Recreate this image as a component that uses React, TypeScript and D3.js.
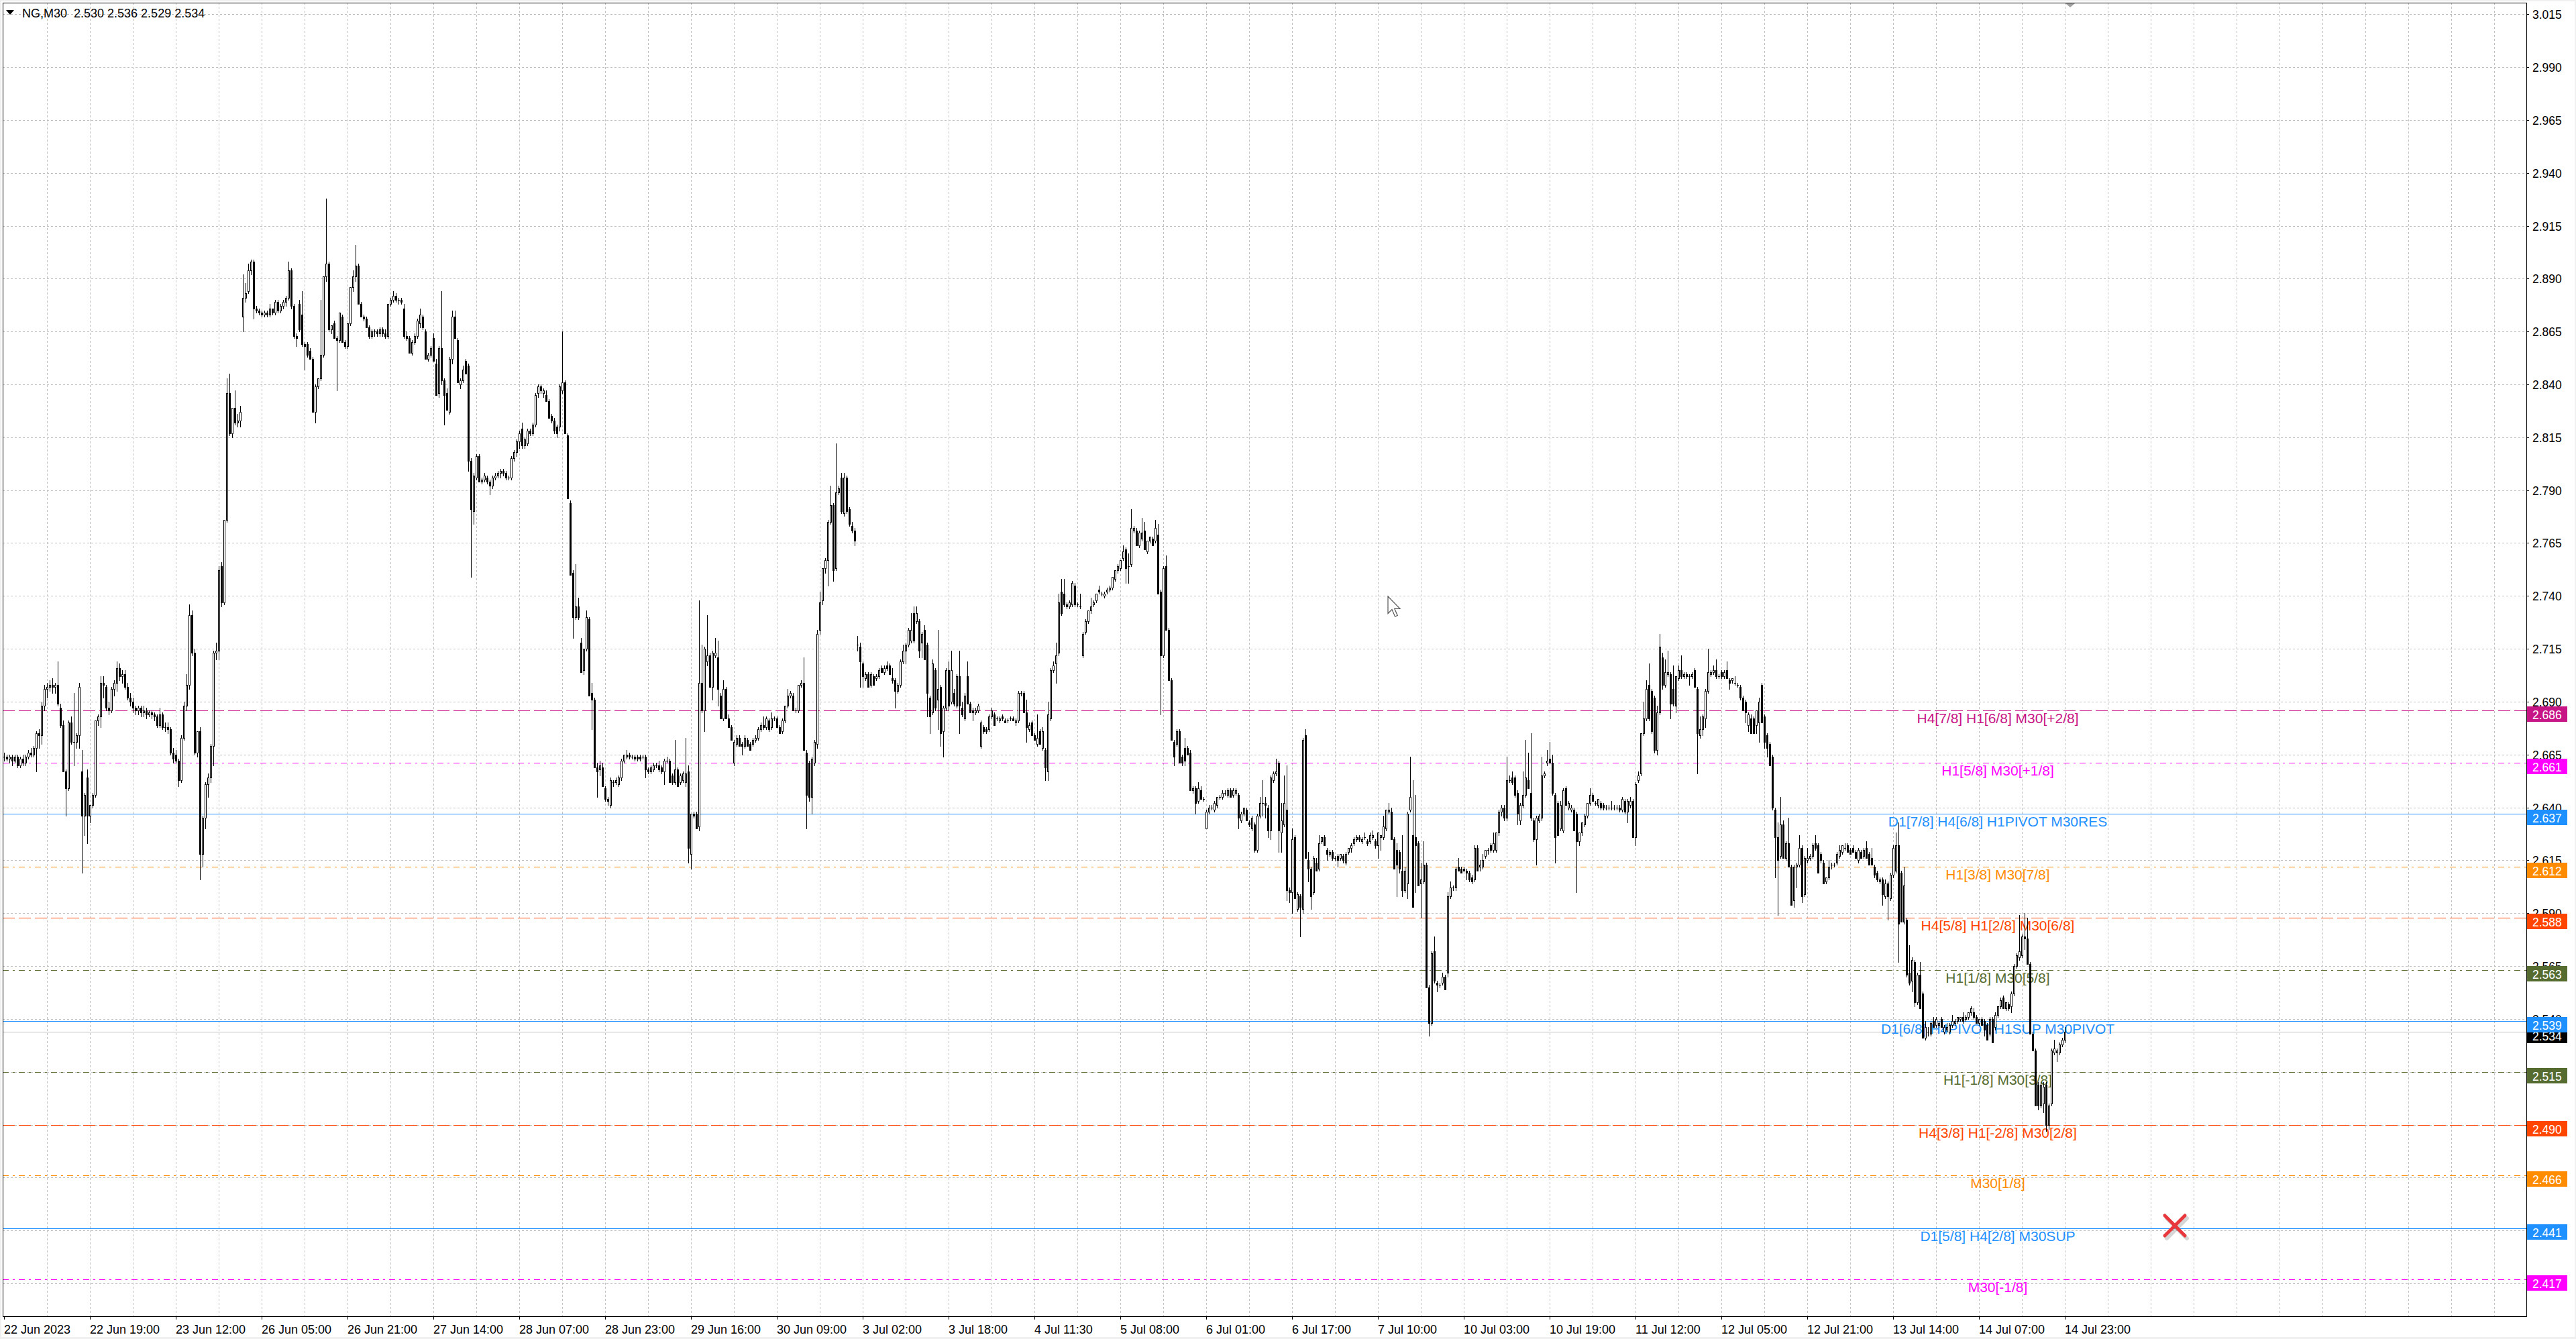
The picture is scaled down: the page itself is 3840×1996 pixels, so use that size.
import React from 'react';
import * as d3 from 'd3';

type OHLC = [number, number, number, number];

// NG M30 candles, prices in thousandths (open, high, low, close)
const jun22to23: OHLC[] = [
[2664,2666,2662,2664],[2664,2665,2662,2663],[2663,2665,2661,2664],[2664,2665,2660,2662],[2662,2665,2661,2664],
[2664,2665,2659,2660],[2660,2664,2659,2663],[2663,2665,2660,2661],[2661,2665,2660,2664],[2664,2667,2663,2666],
[2666,2668,2664,2665],[2665,2669,2664,2668],[2668,2676,2657,2675],[2675,2677,2668,2674],[2674,2690,2670,2688],
[2688,2698,2686,2696],[2696,2699,2692,2697],[2697,2700,2695,2698],[2698,2701,2694,2697],[2697,2699,2694,2698],
[2698,2709,2688,2689],[2687,2689,2678,2679],[2679,2681,2657,2657],[2657,2658,2636,2649],[2649,2681,2648,2680],
[2680,2683,2670,2671],[2671,2694,2660,2671],[2671,2675,2668,2674],[2674,2699,2668,2697],[2657,2667,2609,2636],
[2636,2647,2627,2646],[2654,2658,2623,2636],[2636,2641,2633,2641],[2641,2647,2640,2646],[2646,2681,2645,2681],
[2681,2684,2679,2683],[2683,2702,2678,2699],[2699,2702,2692,2698],[2697,2698,2686,2687],[2687,2690,2684,2686],
[2686,2697,2685,2696],[2696,2700,2693,2699],[2699,2709,2695,2706],[2706,2708,2700,2702],[2702,2705,2699,2703],
[2703,2705,2696,2697],[2697,2699,2691,2692],[2692,2694,2688,2690],[2690,2692,2685,2687],[2687,2688,2684,2686],
[2686,2688,2684,2687],[2687,2688,2683,2685],[2685,2688,2683,2686],[2686,2687,2682,2684],[2684,2686,2683,2685],
[2685,2686,2682,2684],[2684,2685,2681,2683],[2683,2684,2678,2679],[2679,2687,2678,2684],[2684,2685,2677,2678],
[2678,2680,2676,2678],[2678,2680,2675,2677],[2677,2678,2665,2666],[2666,2668,2661,2663],[2665,2667,2661,2662],
[2662,2663,2650,2653],[2653,2674,2652,2673],[2673,2690,2672,2688],[2688,2703,2686,2698],[2698,2736,2696,2731],
[2731,2733,2712,2713],[2713,2715,2665,2666],[2666,2676,2664,2676],[2676,2678,2606,2618],[2618,2636,2612,2635],
[2635,2652,2630,2651],[2651,2656,2645,2654],[2654,2670,2652,2669],[2669,2714,2660,2713],[2713,2718,2710,2714],
[2714,2754,2710,2752],[2754,2756,2735,2737],[2737,2776,2736,2776],[2776,2843,2775,2836],[2836,2845,2816,2817],
[2817,2829,2815,2829],[2829,2837,2821,2822],[2822,2826,2820,2823],[2823,2830,2820,2827],
];

const jun26to30: OHLC[] = [
[2872,2892,2865,2881],[2881,2888,2879,2883],[2884,2897,2883,2894],[2894,2899,2892,2898],[2898,2899,2871,2876],
[2876,2877,2874,2875],[2875,2876,2873,2874],[2874,2875,2872,2873],[2873,2875,2872,2874],[2874,2875,2872,2873],
[2873,2878,2872,2876],[2876,2876,2873,2874],[2874,2880,2873,2879],[2879,2880,2874,2875],[2875,2878,2874,2877],
[2877,2880,2876,2879],[2879,2882,2877,2881],[2881,2898,2880,2894],[2894,2895,2876,2877],[2877,2878,2862,2863],
[2863,2864,2858,2862],[2878,2880,2865,2866],[2873,2884,2858,2859],[2859,2860,2847,2858],[2859,2860,2853,2854],
[2856,2857,2852,2852],[2852,2853,2827,2827],[2827,2840,2822,2839],[2839,2843,2838,2843],[2843,2880,2842,2854],
[2854,2891,2853,2891],[2891,2928,2889,2897],[2897,2898,2865,2866],[2866,2868,2864,2868],[2869,2870,2862,2862],
[2862,2863,2837,2861],[2861,2874,2860,2874],[2872,2873,2860,2860],[2860,2861,2857,2858],[2858,2869,2857,2869],
[2869,2886,2868,2886],[2886,2894,2884,2891],[2891,2906,2889,2896],[2896,2897,2878,2878],[2878,2879,2872,2872],
[2872,2873,2870,2871],[2871,2872,2867,2867],[2867,2868,2862,2863],[2863,2866,2862,2865],[2865,2866,2863,2865],
[2865,2866,2863,2864],[2864,2867,2863,2866],[2866,2867,2863,2864],[2864,2866,2862,2863],[2863,2878,2862,2878],
[2878,2881,2877,2880],[2880,2884,2879,2882],[2882,2883,2879,2880],[2880,2881,2878,2880],[2880,2881,2878,2879],
[2876,2878,2862,2863],[2863,2865,2861,2862],[2862,2863,2855,2855],[2855,2861,2854,2860],[2860,2864,2859,2863],
[2863,2871,2862,2870],[2869,2876,2867,2873],[2872,2873,2866,2867],[2865,2866,2852,2852],[2852,2855,2851,2854],
[2854,2858,2853,2857],[2862,2864,2851,2851],[2850,2852,2835,2835],[2836,2858,2834,2857],[2857,2884,2840,2842],
[2842,2843,2821,2835],[2836,2838,2828,2828],[2827,2853,2826,2852],[2852,2875,2850,2872],[2872,2875,2862,2862],
[2861,2862,2841,2841],[2840,2843,2838,2842],[2842,2849,2841,2847],[2851,2852,2845,2845],[2849,2850,2799,2804],
[2804,2805,2749,2781],[2780,2798,2774,2797],[2796,2807,2795,2806],[2806,2807,2794,2794],[2794,2796,2793,2795],
[2795,2798,2794,2797],[2796,2797,2793,2794],[2794,2795,2788,2792],[2792,2797,2791,2796],[2796,2798,2795,2797],
[2797,2799,2796,2798],[2798,2800,2796,2799],[2799,2800,2797,2798],[2798,2799,2795,2796],[2796,2797,2795,2796],
[2796,2806,2795,2805],[2805,2809,2804,2808],[2808,2814,2806,2813],[2813,2818,2810,2817],[2819,2822,2810,2811],
[2811,2815,2810,2814],[2812,2819,2811,2818],[2818,2819,2816,2817],[2817,2822,2816,2821],[2821,2836,2820,2835],
[2836,2840,2834,2839],[2839,2840,2836,2837],[2836,2838,2834,2837],[2835,2837,2832,2832],[2832,2833,2824,2824],
[2825,2826,2822,2823],[2823,2824,2817,2818],[2820,2821,2815,2817],[2820,2840,2818,2839],[2837,2865,2836,2841],
[2841,2842,2817,2817],[2816,2817,2786,2786],[2784,2785,2750,2750],[2751,2752,2720,2730],[2730,2755,2729,2735],
[2735,2739,2729,2730],[2718,2720,2704,2704],[2705,2715,2703,2715],[2715,2733,2714,2730],[2729,2730,2693,2693],
[2694,2699,2677,2691],[2691,2692,2659,2659],[2659,2661,2645,2657],[2658,2662,2655,2660],[2659,2661,2650,2650],
[2649,2650,2643,2644],[2644,2645,2641,2643],[2641,2654,2640,2653],[2652,2653,2650,2652],[2652,2654,2651,2653],
[2651,2655,2650,2654],[2654,2663,2653,2662],[2662,2665,2661,2665],[2664,2667,2663,2665],[2665,2666,2663,2664],
[2664,2665,2663,2664],[2664,2665,2662,2663],[2664,2665,2662,2663],[2664,2665,2662,2663],[2664,2665,2663,2664],
[2664,2665,2654,2658],[2658,2659,2656,2657],[2657,2660,2656,2659],[2658,2661,2657,2660],[2660,2661,2659,2660],
[2660,2662,2657,2658],[2659,2660,2656,2657],[2657,2663,2651,2662],[2662,2664,2661,2662],[2662,2663,2652,2652],
[2655,2656,2651,2652],[2652,2672,2651,2658],[2658,2659,2650,2650],[2652,2656,2651,2655],[2653,2657,2652,2656],
[2652,2673,2650,2656],[2657,2660,2614,2621],[2618,2637,2611,2637],[2637,2638,2635,2636],[2637,2638,2630,2630],
[2631,2738,2629,2699],[2699,2717,2685,2686],[2686,2716,2676,2715],[2709,2731,2707,2712],[2712,2713,2697,2697],
[2697,2714,2691,2713],[2712,2720,2711,2713],[2711,2719,2688,2696],[2693,2694,2682,2682],[2682,2700,2681,2696],
[2696,2697,2682,2682],[2682,2684,2678,2678],[2678,2679,2672,2672],[2661,2672,2660,2671],[2670,2674,2669,2673],
[2673,2674,2669,2669],[2670,2671,2665,2669],[2669,2674,2668,2673],[2672,2673,2669,2669],[2670,2671,2667,2667],
[2670,2673,2669,2672],[2672,2674,2671,2673],[2673,2678,2672,2677],[2677,2680,2676,2679],[2679,2683,2677,2678],
[2678,2683,2677,2682],[2681,2682,2676,2677],[2678,2685,2677,2682],[2682,2683,2681,2682],[2682,2683,2678,2678],
[2678,2679,2675,2675],[2676,2682,2675,2681],[2681,2688,2680,2688],[2688,2696,2687,2693],[2693,2695,2692,2694],
[2693,2694,2686,2686],[2686,2687,2685,2686],[2686,2698,2685,2698],[2698,2700,2697,2699],[2699,2711,2667,2667],
[2666,2667,2630,2646],[2661,2662,2643,2645],[2645,2664,2637,2663],[2661,2672,2660,2671],[2670,2724,2668,2722],
[2724,2742,2722,2737],[2738,2753,2736,2753],[2753,2758,2751,2757],[2757,2776,2745,2775],[2775,2792,2774,2783],
[2783,2784,2747,2752],[2753,2812,2752,2789],[2789,2792,2788,2791],[2796,2798,2779,2780],[2779,2798,2778,2796],
[2796,2797,2779,2780],[2781,2782,2773,2774],[2773,2775,2770,2771],[2771,2772,2764,2766],
];

const jul03to07: OHLC[] = [
[2717,2721,2714,2717],[2716,2718,2697,2709],[2708,2709,2697,2702],[2701,2704,2700,2703],[2703,2704,2697,2697],
[2698,2704,2697,2703],[2702,2703,2698,2698],[2701,2703,2700,2702],[2702,2706,2701,2705],[2706,2707,2704,2704],
[2704,2707,2703,2706],[2707,2709,2705,2706],[2707,2708,2703,2703],[2701,2706,2699,2700],[2700,2701,2687,2695],
[2695,2699,2694,2698],[2698,2710,2697,2709],[2709,2717,2708,2714],[2714,2718,2708,2717],[2717,2725,2716,2724],
[2719,2732,2718,2724],[2732,2735,2718,2719],[2728,2735,2727,2732],[2728,2729,2711,2714],[2718,2723,2711,2722],
[2724,2726,2710,2710],[2717,2718,2683,2694],[2692,2693,2675,2683],[2685,2710,2684,2708],[2705,2706,2686,2687],
[2691,2724,2677,2696],[2697,2698,2669,2675],[2676,2688,2664,2687],[2687,2706,2686,2705],[2705,2709,2686,2688],
[2690,2714,2689,2705],[2694,2696,2688,2689],[2688,2703,2687,2702],[2702,2714,2675,2688],[2687,2690,2683,2684],
[2682,2694,2681,2693],[2702,2709,2689,2689],[2689,2690,2685,2685],[2686,2687,2681,2685],[2685,2687,2684,2686],
[2686,2689,2685,2688],[2669,2681,2668,2680],[2678,2679,2675,2676],[2677,2678,2675,2676],[2677,2684,2676,2683],
[2683,2687,2682,2686],[2684,2685,2679,2679],[2682,2683,2681,2682],[2681,2683,2680,2682],[2683,2684,2681,2682],
[2681,2682,2680,2680],[2681,2682,2680,2681],[2682,2683,2681,2682],[2682,2683,2681,2681],[2680,2682,2679,2681],
[2681,2695,2680,2694],[2694,2695,2693,2694],[2694,2695,2685,2685],[2685,2691,2671,2678],[2677,2680,2676,2679],
[2680,2681,2674,2674],[2674,2675,2672,2672],[2670,2684,2669,2673],[2676,2677,2670,2670],[2668,2678,2667,2676],
[2667,2668,2653,2659],[2657,2690,2653,2684],[2682,2706,2681,2705],[2705,2709,2704,2707],[2708,2718,2699,2712],
[2713,2741,2712,2737],[2742,2748,2731,2732],[2741,2748,2735,2736],[2736,2737,2734,2735],[2735,2738,2734,2737],
[2736,2747,2735,2746],[2745,2746,2735,2736],[2736,2737,2735,2736],[2735,2741,2734,2735],[2712,2723,2711,2722],
[2723,2729,2722,2728],[2728,2733,2727,2733],[2733,2739,2732,2735],[2736,2738,2735,2737],[2738,2741,2737,2741],
[2743,2745,2741,2742],[2741,2742,2740,2741],[2740,2742,2739,2741],[2742,2744,2741,2743],[2743,2745,2742,2744],
[2744,2749,2743,2749],[2748,2752,2747,2752],[2752,2755,2751,2754],[2753,2757,2752,2757],[2758,2764,2757,2761],
[2762,2763,2746,2753],[2754,2760,2746,2754],[2755,2781,2754,2772],[2771,2773,2770,2772],[2771,2772,2764,2764],
[2764,2771,2763,2770],[2767,2777,2766,2770],[2771,2775,2762,2762],[2761,2766,2760,2766],[2766,2768,2765,2768],
[2767,2768,2764,2764],[2766,2776,2765,2772],[2769,2774,2741,2741],[2742,2743,2684,2712],[2712,2754,2711,2753],
[2754,2759,2724,2724],[2724,2725,2700,2700],[2700,2701,2672,2672],[2671,2672,2660,2664],[2670,2677,2669,2676],
[2676,2677,2661,2661],[2664,2665,2660,2661],[2668,2673,2660,2662],[2668,2669,2665,2665],[2666,2667,2648,2648],
[2648,2650,2647,2649],[2649,2650,2637,2642],[2643,2652,2642,2649],[2648,2650,2644,2644],[2644,2645,2643,2644],
[2630,2639,2630,2638],[2638,2641,2637,2640],[2640,2641,2639,2640],[2639,2643,2638,2642],[2641,2645,2640,2645],
[2645,2646,2644,2645],[2645,2648,2644,2647],[2647,2648,2646,2647],[2646,2649,2645,2648],[2648,2649,2645,2645],
[2646,2649,2645,2648],[2647,2649,2646,2648],[2646,2647,2630,2635],[2634,2638,2633,2637],[2637,2640,2636,2640],
[2639,2640,2634,2634],[2633,2634,2631,2632],[2630,2636,2629,2635],[2632,2633,2619,2620],
[2620,2637,2619,2636],[2636,2645,2635,2642],[2642,2653,2636,2642],[2642,2645,2635,2641],[2640,2641,2626,2629],
[2629,2655,2625,2654],[2653,2657,2652,2656],[2656,2663,2655,2657],[2661,2662,2619,2629],[2628,2642,2619,2634],
[2632,2655,2631,2642],[2639,2660,2596,2601],[2601,2602,2595,2600],[2600,2630,2590,2625],[2626,2627,2597,2597],
[2592,2600,2591,2599],[2598,2599,2579,2593],[2592,2673,2590,2672],[2674,2677,2616,2616],[2615,2619,2605,2611],
[2611,2612,2592,2598],[2600,2617,2599,2616],[2614,2616,2610,2610],[2611,2627,2610,2623],[2624,2626,2623,2626],
[2626,2627,2622,2622],[2620,2621,2615,2618],[2618,2620,2617,2619],[2619,2620,2615,2616],[2616,2617,2615,2616],
[2617,2618,2612,2615],[2616,2618,2615,2618],[2617,2618,2614,2615],[2614,2619,2613,2618],[2619,2621,2618,2621],
[2621,2623,2619,2622],[2623,2626,2622,2625],[2625,2627,2624,2626],[2626,2627,2624,2625],[2624,2626,2623,2625],
[2626,2628,2625,2626],[2624,2625,2622,2623],[2624,2628,2623,2627],[2626,2629,2625,2627],
[2624,2625,2621,2622],[2622,2628,2616,2628],[2626,2627,2620,2627],[2626,2636,2625,2631],[2630,2639,2629,2639],
[2638,2642,2637,2639],[2638,2640,2625,2625],[2625,2626,2611,2611],[2620,2623,2598,2613],[2619,2620,2609,2611],
[2610,2627,2598,2601],[2601,2612,2600,2610],[2604,2638,2597,2637],[2639,2664,2638,2645],[2627,2653,2593,2593],
[2626,2646,2600,2622],[2623,2624,2603,2603],[2604,2614,2588,2606],[2605,2624,2604,2613],[2613,2614,2555,2555],
[2555,2556,2532,2538],[2538,2572,2537,2571],[2572,2579,2557,2558],[2557,2558,2553,2556],[2556,2557,2555,2556],
[2557,2562,2556,2560],[2560,2561,2554,2554],
];

const jul10to14: OHLC[] = [
[2562,2600,2560,2598],[2598,2605,2597,2602],[2602,2603,2601,2602],[2602,2612,2601,2611],[2612,2616,2610,2610],
[2611,2612,2609,2609],[2611,2612,2610,2610],[2610,2611,2606,2609],[2609,2610,2605,2606],[2607,2608,2604,2605],
[2606,2622,2605,2621],[2621,2622,2610,2610],[2612,2615,2610,2613],[2612,2618,2611,2615],[2617,2620,2616,2620],
[2620,2621,2618,2620],[2622,2623,2619,2620],[2620,2628,2619,2623],[2620,2628,2619,2628],[2628,2639,2627,2638],
[2638,2641,2636,2640],[2640,2641,2634,2635],[2635,2664,2634,2653],[2653,2655,2652,2653],[2654,2657,2651,2652],
[2654,2655,2645,2646],[2647,2648,2632,2637],[2634,2642,2632,2641],[2641,2657,2640,2646],[2646,2672,2645,2654],
[2653,2666,2649,2649],[2647,2675,2634,2635],[2634,2635,2624,2625],[2625,2636,2613,2635],[2634,2637,2633,2636],
[2635,2664,2634,2655],[2655,2657,2654,2656],[2661,2667,2660,2662],[2663,2671,2661,2661],[2661,2665,2646,2647],
[2646,2647,2614,2626],[2642,2643,2627,2627],[2630,2643,2629,2641],[2629,2649,2628,2648],[2649,2650,2641,2641],
[2640,2643,2639,2642],[2639,2641,2638,2640],[2639,2640,2629,2629],[2637,2638,2600,2624],[2624,2628,2622,2628],
[2628,2633,2627,2633],[2632,2637,2631,2636],[2636,2642,2635,2642],[2642,2649,2641,2646],[2646,2647,2643,2643],
[2642,2643,2641,2642],[2641,2644,2640,2644],[2642,2643,2639,2640],[2641,2642,2639,2640],[2640,2641,2639,2640],
[2640,2641,2639,2640],[2640,2643,2639,2640],[2640,2641,2639,2640],[2640,2641,2639,2640],[2640,2641,2638,2639],
[2639,2645,2638,2644],[2643,2644,2637,2638],[2638,2644,2633,2643],[2641,2645,2640,2643],[2643,2644,2626,2626],
[2626,2652,2622,2651],[2653,2657,2652,2655],[2656,2675,2655,2675],[2675,2690,2674,2682],[2682,2700,2681,2696],
[2698,2708,2681,2682],[2695,2696,2675,2676],[2692,2693,2666,2667],[2667,2688,2665,2685],[2685,2722,2684,2716],
[2711,2713,2696,2698],[2698,2710,2697,2704],[2703,2714,2702,2704],[2703,2704,2682,2689],
[2696,2707,2688,2689],[2688,2702,2685,2702],[2701,2707,2700,2705],[2705,2712,2701,2702],[2702,2704,2701,2703],
[2703,2704,2701,2702],[2702,2703,2698,2702],[2702,2704,2701,2703],[2705,2706,2697,2697],[2696,2697,2656,2675],
[2674,2683,2673,2677],[2677,2684,2674,2683],[2682,2696,2678,2695],[2695,2715,2694,2704],[2703,2705,2702,2704],
[2704,2707,2703,2705],[2705,2710,2701,2702],[2702,2703,2701,2702],[2704,2705,2701,2702],[2702,2705,2701,2704],
[2705,2709,2701,2701],[2700,2701,2696,2699],[2700,2701,2699,2701],[2699,2702,2698,2699],[2698,2699,2697,2698],
[2697,2698,2691,2692],[2692,2693,2686,2686],[2690,2691,2680,2685],[2679,2685,2676,2684],[2682,2684,2675,2675],
[2682,2683,2675,2675],[2679,2686,2675,2686],[2680,2692,2671,2690],[2698,2699,2680,2680],[2683,2684,2668,2671],
[2674,2675,2664,2668],[2670,2671,2660,2660],[2664,2665,2639,2640],[2639,2640,2607,2626],[2626,2633,2589,2615],
[2617,2645,2616,2632],[2632,2634,2616,2616],[2616,2624,2615,2623],[2623,2635,2612,2612],[2612,2613,2594,2594],
[2596,2613,2593,2612],[2612,2614,2602,2613],[2613,2627,2612,2621],[2621,2622,2595,2598],[2599,2617,2598,2616],
[2615,2621,2614,2616],[2616,2618,2615,2617],[2617,2623,2616,2622],[2623,2627,2620,2621],[2622,2623,2609,2609],
[2618,2619,2614,2615],[2614,2615,2604,2604],[2605,2607,2604,2607],[2607,2615,2606,2612],[2613,2614,2611,2613],
[2613,2614,2612,2613],[2614,2619,2613,2618],[2617,2622,2616,2620],[2619,2622,2618,2622],[2621,2623,2620,2621],
[2622,2623,2619,2619],[2620,2621,2618,2618],[2621,2622,2619,2619],[2619,2620,2616,2616],[2615,2621,2614,2620],
[2619,2620,2616,2616],[2617,2621,2616,2620],[2621,2624,2616,2616],[2618,2619,2613,2613],[2616,2621,2613,2613],
[2612,2613,2607,2608],[2609,2610,2605,2606],[2606,2607,2604,2605],[2606,2607,2594,2599],[2598,2606,2597,2604],
[2604,2605,2587,2598],[2597,2609,2596,2608],[2608,2622,2607,2621],[2610,2628,2609,2622],[2622,2633,2567,2585],
[2609,2610,2586,2586],[2586,2612,2585,2603],[2587,2588,2560,2561],[2562,2575,2556,2557],[2558,2569,2553,2568],
[2567,2568,2546,2548],[2548,2562,2547,2561],[2561,2567,2545,2545],[2552,2553,2531,2531],[2531,2539,2530,2536],
[2534,2536,2532,2534],[2533,2539,2532,2538],[2539,2541,2536,2536],[2537,2541,2536,2540],[2537,2539,2536,2538],
[2540,2541,2536,2536],[2534,2537,2533,2536],[2535,2538,2534,2536],[2534,2538,2533,2537],[2537,2542,2536,2539],
[2538,2540,2537,2539],[2539,2541,2538,2541],[2540,2541,2539,2541],[2541,2543,2538,2539],[2540,2542,2539,2541],
[2541,2543,2540,2543],[2543,2546,2542,2545],[2543,2545,2540,2541],[2541,2542,2538,2538],[2538,2540,2537,2540],
[2540,2541,2537,2537],[2539,2540,2532,2535],[2537,2538,2530,2530],[2533,2541,2532,2540],[2540,2541,2529,2529],
[2536,2543,2535,2542],[2542,2546,2541,2546],[2546,2550,2545,2549],[2550,2551,2545,2545],[2545,2548,2544,2548],
[2547,2548,2544,2545],[2546,2553,2543,2552],[2552,2566,2551,2565],[2565,2571,2564,2570],[2569,2589,2568,2572],
[2570,2580,2569,2579],[2579,2590,2573,2578],[2578,2588,2566,2566],[2566,2567,2533,2533],[2533,2534,2525,2525],
[2525,2526,2499,2499],[2509,2510,2497,2499],[2499,2510,2498,2509],[2500,2510,2496,2508],[2509,2510,2487,2490],
[2490,2500,2488,2499],[2500,2526,2499,2525],[2524,2530,2523,2526],[2524,2526,2520,2525],[2524,2529,2523,2528],
[2528,2531,2527,2530],[2530,2536,2529,2534],
];

// Murrey-math style level lines
const levelPrices = [2.686, 2.661, 2.637, 2.612, 2.588, 2.563, 2.539, 2.515, 2.490, 2.466, 2.441, 2.417];
const levelNames = [
  'H4[7/8] H1[6/8] M30[+2/8]',
  'H1[5/8] M30[+1/8]',
  'D1[7/8] H4[6/8] H1PIVOT M30RES',
  'H1[3/8] M30[7/8]',
  'H4[5/8] H1[2/8] M30[6/8]',
  'H1[1/8] M30[5/8]',
  'D1[6/8] H4PIVOT H1SUP M30PIVOT',
  'H1[-1/8] M30[3/8]',
  'H4[3/8] H1[-2/8] M30[2/8]',
  'M30[1/8]',
  'D1[5/8] H4[2/8] M30SUP',
  'M30[-1/8]',
];
const bidPrice = 2.534;

const priceTicks = [3.015, 2.990, 2.965, 2.940, 2.915, 2.890, 2.865, 2.840, 2.815, 2.790, 2.765, 2.740,
  2.715, 2.690, 2.665, 2.640, 2.615, 2.590, 2.565, 2.540, 2.515, 2.490, 2.465, 2.440, 2.415];

const timeLabels = ['22 Jun 2023', '22 Jun 19:00', '23 Jun 12:00', '26 Jun 05:00', '26 Jun 21:00', '27 Jun 14:00',
  '28 Jun 07:00', '28 Jun 23:00', '29 Jun 16:00', '30 Jun 09:00', '3 Jul 02:00', '3 Jul 18:00', '4 Jul 11:30',
  '5 Jul 08:00', '6 Jul 01:00', '6 Jul 17:00', '7 Jul 10:00', '10 Jul 03:00', '10 Jul 19:00', '11 Jul 12:00',
  '12 Jul 05:00', '12 Jul 21:00', '13 Jul 14:00', '14 Jul 07:00', '14 Jul 23:00'];

const titleText = 'NG,M30  2.530 2.536 2.529 2.534';

// styles (kept apart from data)
const DASH = '18,6';
const DASHDOT = '9,6,3,6';
const levelStyles = [
  { color: '#C71585', dash: DASH },
  { color: '#FF00FF', dash: DASHDOT },
  { color: '#1E90FF', dash: '' },
  { color: '#FF8C00', dash: DASHDOT },
  { color: '#FF4500', dash: DASH },
  { color: '#556B2F', dash: DASHDOT },
  { color: '#1E90FF', dash: '' },
  { color: '#556B2F', dash: DASHDOT },
  { color: '#FF4500', dash: DASH },
  { color: '#FF8C00', dash: DASHDOT },
  { color: '#1E90FF', dash: '' },
  { color: '#FF00FF', dash: DASHDOT },
];

const W = 3840, H = 1996;
const PL = 4, PT = 4, PR = 3766, PB = 1962;
const AXIS_FONT = '"Liberation Sans", Arial, sans-serif';

export default function App() {
  const bars = [...jun22to23, ...jun26to30, ...jul03to07, ...jul10to14].map(([o, h, l, c]) => ({
    o: o / 1000, c: c / 1000, h: Math.max(h, o, c) / 1000, l: Math.min(l, o, c) / 1000,
  }));
  const N = bars.length;
  const lastX = 3078;
  const step = 4;
  const x = d3.scaleLinear().domain([0, N - 1]).range([lastX - step * (N - 1), lastX]);
  const y = d3.scaleLinear().domain([3.015, 2.415]).range([21.3, 21.3 + 24 * 78.82]);
  const py = (p: number) => Math.round(y(p)) + 0.5;

  // vertical grid every 16 bars, anchored to the last bar
  const vGrid: number[] = [];
  for (let k = -60; k < 60; k++) {
    const gx = Math.round(x(N - 1 - 16 * k)) + 0.5;
    if (gx > PL + 20 && gx < PR - 2) vGrid.push(gx);
  }

  const timeIdx = timeLabels.map((_, j) => N - 1 - 32 * (timeLabels.length - 1 - j));

  const candles = bars.map((b, i) => {
    const cx = Math.round(x(i));
    const yh = Math.round(y(b.h));
    const yl = Math.round(y(b.l));
    const yo = Math.round(y(b.o));
    const yc = Math.round(y(b.c));
    const top = Math.min(yo, yc);
    const bot = Math.max(yo, yc);
    const bull = b.c >= b.o;
    const wick = <line key={'w' + i} x1={cx + 0.5} x2={cx + 0.5} y1={yh} y2={yl + 1} stroke="#000" strokeWidth={1} />;
    let body;
    if (bot - top < 2) {
      body = <rect key={'b' + i} x={cx - 1} y={top} width={3} height={Math.max(1, bot - top + 1)} fill="#000" />;
    } else if (bull) {
      body = <rect key={'b' + i} x={cx - 0.5} y={top + 0.5} width={2} height={bot - top} fill="#fff" stroke="#000" strokeWidth={1} />;
    } else {
      body = <rect key={'b' + i} x={cx - 1} y={top} width={3} height={bot - top + 1} fill="#000" />;
    }
    return <g key={i}>{wick}{body}</g>;
  });

  const cursorX = 2069, cursorY = 889;
  const xc = 3242, yc = 1827, xr = 15;

  return (
    <div style={{ width: W, height: H, overflow: 'hidden' }}>
      <style>{'html,body{margin:0;padding:0;overflow:hidden;background:#fff}'}</style>
      <svg width={W} height={H} viewBox={`0 0 ${W} ${H}`} style={{ display: 'block' }}>
        <defs>
          <clipPath id="plotClip">
            <rect x={PL + 1} y={PT + 1} width={PR - PL - 1} height={PB - PT - 1} />
          </clipPath>
        </defs>
        <rect x={0} y={0} width={W} height={H} fill="#F0F0F0" />
        <rect x={2} y={2} width={W - 4} height={H - 5} fill="#FFFFFF" />

        <g clipPath="url(#plotClip)" shapeRendering="crispEdges">
          {priceTicks.map((t) => (
            <line key={'hg' + t} x1={PL} x2={PR} y1={py(t)} y2={py(t)} stroke="#C0C0C0" strokeDasharray="3,3" />
          ))}
          {vGrid.map((gx) => (
            <line key={'vg' + gx} x1={gx} x2={gx} y1={PT} y2={PB} stroke="#C0C0C0" strokeDasharray="3,3" />
          ))}
          {levelPrices.map((p, i) => (
            <line key={'lv' + i} x1={PL} x2={PR} y1={py(p)} y2={py(p)} stroke={levelStyles[i].color}
              strokeDasharray={levelStyles[i].dash || undefined} strokeWidth={1} />
          ))}
          <line x1={PL} x2={PR} y1={py(bidPrice)} y2={py(bidPrice)} stroke="#C0C0C0" strokeWidth={1} />
        </g>

        <g clipPath="url(#plotClip)">
          {levelPrices.map((p, i) => (
            <text key={'lt' + i} x={2978} y={Math.round(y(p)) + 19} textAnchor="middle"
              fontFamily={AXIS_FONT} fontSize={21} fill={levelStyles[i].color}>{levelNames[i]}</text>
          ))}
        </g>

        <g clipPath="url(#plotClip)" shapeRendering="crispEdges">{candles}</g>

        <rect x={PL + 0.5} y={PT + 0.5} width={PR - PL} height={PB - PT} fill="none" stroke="#000" strokeWidth={1} shapeRendering="crispEdges" />

        <g fontFamily={AXIS_FONT} fontSize={17.5} fill="#000">
          {priceTicks.map((t) => (
            <g key={'pt' + t}>
              <line x1={PR} x2={PR + 4} y1={py(t)} y2={py(t)} stroke="#000" shapeRendering="crispEdges" />
              <text x={3775} y={Math.round(y(t)) + 7}>{t.toFixed(3)}</text>
            </g>
          ))}
        </g>

        <g fontFamily={AXIS_FONT} fontSize={17.5}>
          <rect x={PR + 1} y={Math.round(y(bidPrice)) - 6} width={60} height={23} fill="#000" />
          <text x={3775} y={Math.round(y(bidPrice)) + 13} fill="#fff">{bidPrice.toFixed(3)}</text>
          {levelPrices.map((p, i) => (
            <g key={'pb' + i}>
              <rect x={PR + 1} y={Math.round(y(p)) - 6} width={60} height={23} fill={levelStyles[i].color} />
              <text x={3775} y={Math.round(y(p)) + 13} fill="#fff">{p.toFixed(3)}</text>
            </g>
          ))}
        </g>

        <g fontFamily={AXIS_FONT} fontSize={18} fill="#000">
          {timeLabels.map((lab, j) => {
            const tx = Math.round(x(timeIdx[j]));
            return (
              <g key={'tl' + j}>
                <line x1={tx + 0.5} x2={tx + 0.5} y1={PB} y2={PB + 5} stroke="#000" shapeRendering="crispEdges" />
                <text x={Math.max(tx, 5)} y={1988}>{lab}</text>
              </g>
            );
          })}
        </g>

        <path d="M9,15 L21,15 L15,22 Z" fill="#000" />
        <text x={33} y={26} fontFamily={AXIS_FONT} fontSize={18} fill="#000" style={{ whiteSpace: 'pre' }}>{titleText}</text>

        <path d={`M${lastX + 1},5 L${lastX + 15},5 L${lastX + 8},11 Z`} fill="#A0A0A0" />

        <path transform={`translate(${cursorX},${cursorY}) scale(1.5)`}
          d="M0,0 L0,17 L4,13 L7,20 L9.5,19 L6.5,12.2 L12,12.2 Z" fill="#fff" stroke="#555" strokeWidth={0.8} />

        <g strokeLinecap="round">
          <line x1={xc - xr + 3} y1={yc - xr + 4} x2={xc + xr + 3} y2={yc + xr + 4} stroke="#999" strokeOpacity={0.4} strokeWidth={6} />
          <line x1={xc + xr + 3} y1={yc - xr + 4} x2={xc - xr + 3} y2={yc + xr + 4} stroke="#999" strokeOpacity={0.4} strokeWidth={6} />
          <line x1={xc - xr} y1={yc - xr} x2={xc + xr} y2={yc + xr} stroke="#E8383D" strokeWidth={5} />
          <line x1={xc + xr} y1={yc - xr} x2={xc - xr} y2={yc + xr} stroke="#E8383D" strokeWidth={5} />
        </g>
      </svg>
    </div>
  );
}
